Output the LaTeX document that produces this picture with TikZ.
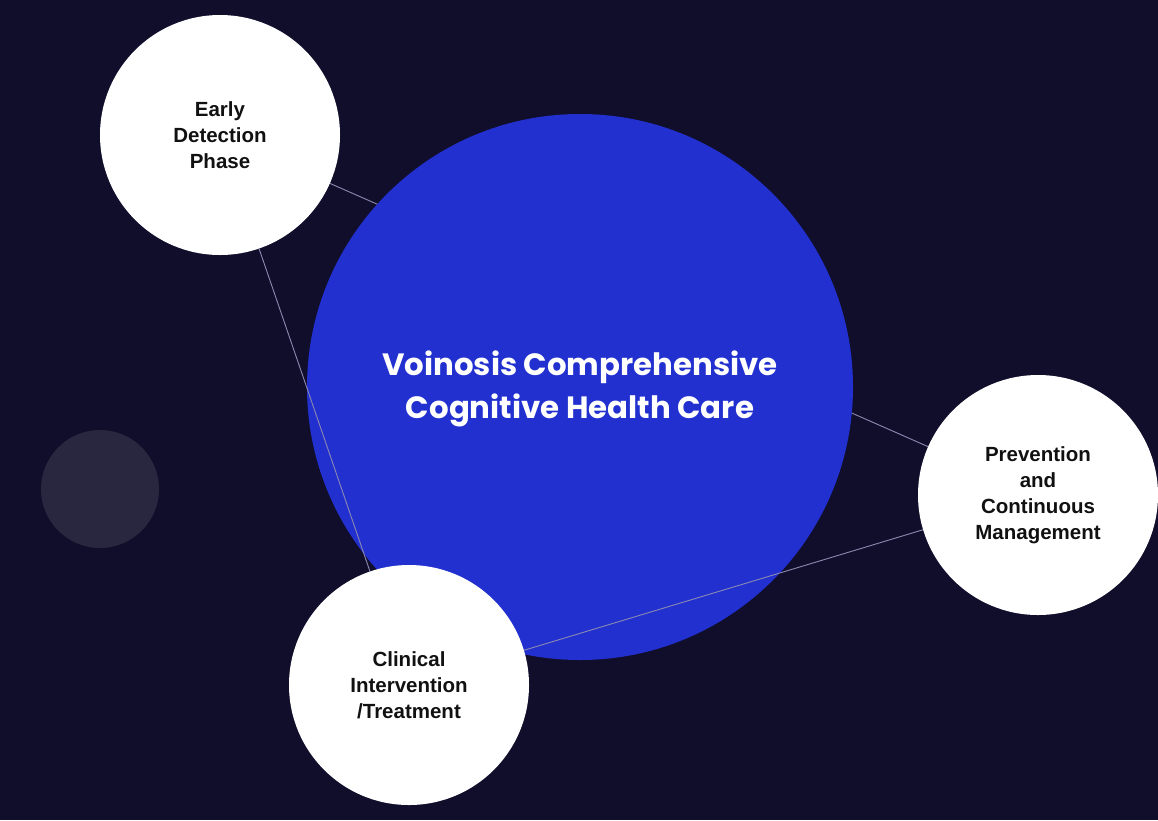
\documentclass[tikz,border=0pt]{standalone}
\usepackage{fontspec}
\setmainfont{Liberation Sans}
\newfontfamily\titlefont{Poppins}
\usetikzlibrary{positioning}
\definecolor{Night}{HTML}{110E2B}
\definecolor{Royal}{HTML}{2130CF}
\definecolor{Mist}{HTML}{8C89B2}
\definecolor{Dusk}{HTML}{29263F}
\definecolor{Ink}{HTML}{111111}

\begin{document}
\begin{tikzpicture}[
    x=1pt, y=-1pt,
    core/.style={circle, fill=Royal, minimum size=546pt, inner sep=0pt},
    title/.style={align=center, text=white,
                  font=\titlefont\bfseries\fontsize{30.8}{43}\selectfont},
    phase/.style={circle, fill=white, minimum size=240pt, inner sep=0pt,
                  align=center, text=Ink,
                  font=\bfseries\fontsize{20.5}{26}\selectfont},
    link/.style={Mist, line width=0.9pt}
    ]
    \fill[Night] (0,0) rectangle (1158,820);
    \useasboundingbox (0,0) rectangle (1158,820);

    % centres only, circles come later
    \coordinate (earlyc) at (220,135);
    \coordinate (prevc)  at (1038,495);
    \coordinate (clinc)  at (409,685);

    \node[circle, fill=Dusk, minimum size=118pt, inner sep=0pt] (dot) at (100,489) {};

    \draw[link] (earlyc) -- (prevc);
    \node[core] (core) at (580,387) {};
    \node[title] (head) at (580,389) {Voinosis Comprehensive\\Cognitive Health Care};
    \draw[link] (earlyc) -- (clinc);
    \draw[link] (prevc) -- (clinc);

    \node[phase] (early) at (earlyc) {Early\\Detection\\Phase};
    \node[phase] (prev)  at (prevc)  {Prevention\\and\\Continuous\\Management};
    \node[phase] (clin)  at (clinc)  {Clinical\\Intervention\\/Treatment};
  \end{tikzpicture}
\end{document}
